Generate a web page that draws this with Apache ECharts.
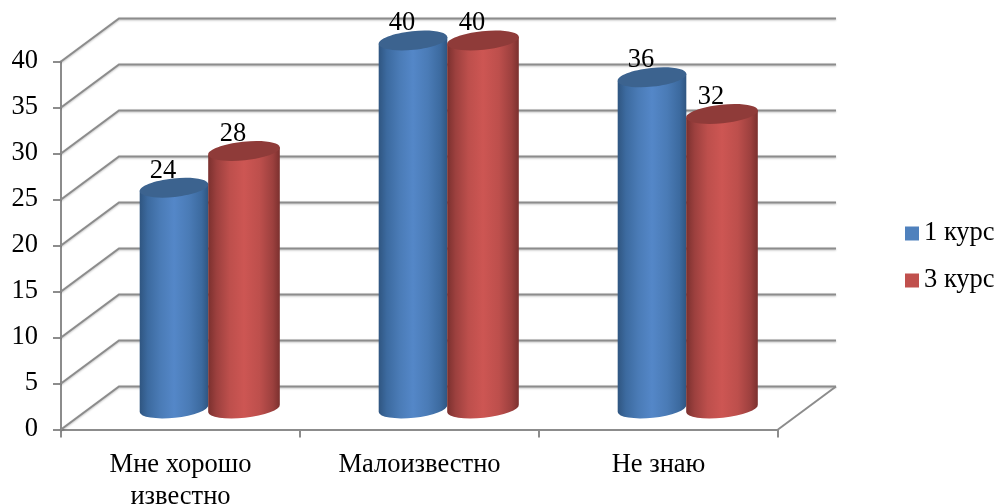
<!DOCTYPE html>
<html><head><meta charset="utf-8">
<style>html,body{margin:0;padding:0;background:#fff}#c{width:1000px;height:504px}</style>
<script src="https://cdn.jsdelivr.net/npm/echarts@6/dist/echarts.min.js"></script>
</head><body><div id="c"></div>
<script>
const categories = ['Мне хорошо\nизвестно', 'Малоизвестно', 'Не знаю'];
const course1 = [24, 40, 36];
const course3 = [28, 40, 32];
const seriesNames = ['1 курс', '3 курс'];
const yTicks = [0, 5, 10, 15, 20, 25, 30, 35, 40];

const FONT = '"Liberation Serif","Times New Roman",serif';
const FS = 26.5;
const DX = 58, DY = 43;        // depth of the box
const BAR_DX = 28.5, BAR_DY = 21; // depth of the cylinder axis
const RY = 9.3, TILT = 0.105;

const chart = echarts.init(document.getElementById('c'));

function wallItem(params, api) {
  const sys = params.coordSys;
  const p = api.coord([0, api.value(0)]);
  const y = p[1], x0 = sys.x, x1 = sys.x + sys.width;
  const children = [{
    type: 'polyline',
    shape: { points: [[x0, y], [x0 + DX, y - DY], [x1 + DX, y - DY]] },
    style: { fill: null, stroke: '#8c8c8c', lineWidth: 2, shadowBlur: 2, shadowColor: 'rgba(0,0,0,.25)', shadowOffsetY: 1 }
  }];
  if (api.value(0) === 0) {
    children.push({
      type: 'line',
      shape: { x1: x1, y1: y, x2: x1 + DX, y2: y - DY },
      style: { stroke: '#8c8c8c', lineWidth: 2 }
    });
  }
  return { type: 'group', children };
}

function cylinder(side, RX, stops, topColor) {
  return function (params, api) {
    const cat = api.value(0), val = api.value(1);
    const top = api.coord([cat, val]);
    const base = api.coord([cat, 0]);
    const cx = top[0] + BAR_DX + side * 35;
    const ty = top[1] - BAR_DY, by = base[1] - BAR_DY;
    const dx = RX * Math.cos(TILT), dy = RX * Math.sin(TILT);
    const deg = -TILT * 180 / Math.PI;
    const d = 'M' + (cx - dx) + ' ' + (ty + dy) +
      ' L' + (cx + dx) + ' ' + (ty - dy) +
      ' L' + (cx + dx) + ' ' + (by - dy) +
      ' A' + RX + ' ' + RY + ' ' + deg + ' 0 1 ' + (cx - dx) + ' ' + (by + dy) + ' Z';
    return {
      type: 'group',
      children: [
        {
          type: 'path',
          shape: { pathData: d },
          style: { fill: new echarts.graphic.LinearGradient(0, 0, 1, 0, stops) }
        },
        {
          type: 'ellipse',
          x: cx, y: ty, rotation: TILT,
          shape: { cx: 0, cy: 0, rx: RX, ry: RY },
          style: { fill: topColor }
        },
        {
          type: 'text',
          x: cx - 11, y: ty - 17,
          style: { text: String(val), fill: '#000', font: FS + 'px ' + FONT, align: 'center', verticalAlign: 'middle' }
        }
      ]
    };
  };
}

const blueStops = [
  { offset: 0, color: '#2f5580' }, { offset: .12, color: '#3c6a9f' },
  { offset: .3, color: '#4a7bb6' }, { offset: .5, color: '#5487c8' },
  { offset: .72, color: '#4a7bb6' }, { offset: .9, color: '#3c6a9f' }, { offset: 1, color: '#2f5580' }
];
const redStops = [
  { offset: 0, color: '#7a302e' }, { offset: .12, color: '#9c403e' },
  { offset: .3, color: '#bd4f4c' }, { offset: .5, color: '#cd5653' },
  { offset: .72, color: '#bd4f4c' }, { offset: .9, color: '#9c403e' }, { offset: 1, color: '#7a302e' }
];

function barData(values) { return values.map((v, i) => [i, v]); }

chart.setOption({
  animation: false,
  backgroundColor: '#fff',
  grid: { left: 61, right: 222, top: 61.5, bottom: 74.5, containLabel: false, outerBoundsMode: 'none' },
  legend: {
    orient: 'vertical', left: 905, top: 220, padding: 0, itemWidth: 14, itemHeight: 14, itemGap: 20, itemTextGap: 7,
    icon: 'rect', selectedMode: false,
    textStyle: { fontFamily: FONT, fontSize: FS, color: '#000' },
    data: seriesNames
  },
  xAxis: {
    type: 'category', data: categories, boundaryGap: true,
    axisLine: { onZero: false, lineStyle: { color: '#8c8c8c', width: 2 } },
    axisTick: { show: true, length: 8, alignWithLabel: false, lineStyle: { color: '#8c8c8c', width: 2 } },
    axisLabel: { fontFamily: FONT, fontSize: FS, color: '#000', lineHeight: 32, margin: 20, interval: 0 }
  },
  yAxis: {
    type: 'value', min: 0, max: 40, interval: 5,
    axisLine: { show: true, lineStyle: { color: '#8c8c8c', width: 2 } },
    axisTick: { show: true, length: 8, lineStyle: { color: '#8c8c8c', width: 2 } },
    splitLine: { show: false },
    axisLabel: { fontFamily: FONT, fontSize: FS, color: '#000', margin: 23, padding: [2, 0, 0, 0] }
  },
  series: [
    { type: 'custom', name: 'walls', z: 1, clip: false, silent: true, renderItem: wallItem,
      encode: { y: 0 }, data: yTicks.map(v => [v]) },
    { type: 'custom', name: seriesNames[0], z: 2, clip: false, itemStyle: { color: '#4f81bd' },
      renderItem: cylinder(-1, 34.5, blueStops, '#3c638f'), encode: { x: 0, y: 1 }, data: barData(course1) },
    { type: 'custom', name: seriesNames[1], z: 3, clip: false, itemStyle: { color: '#c0504d' },
      renderItem: cylinder(1, 36, redStops, '#8f3b39'), encode: { x: 0, y: 1 }, data: barData(course3) }
  ]
});
</script></body></html>
